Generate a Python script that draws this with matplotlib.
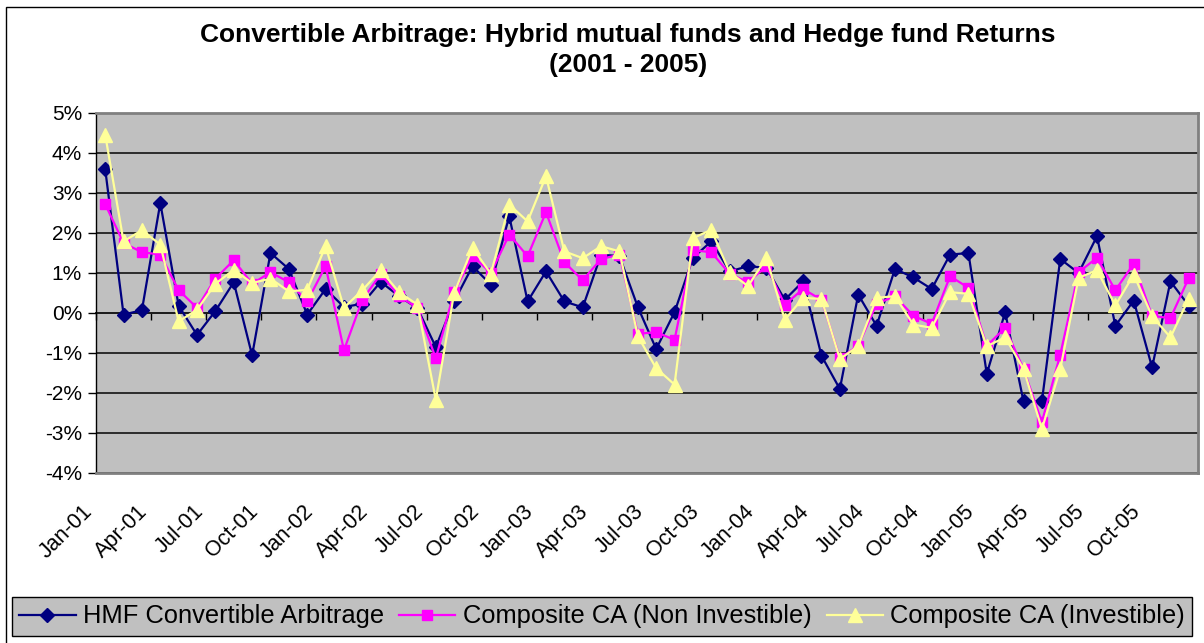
import matplotlib
matplotlib.use("Agg")
import matplotlib.pyplot as plt
import numpy as np
from matplotlib.patches import Rectangle
from matplotlib.ticker import FuncFormatter, MultipleLocator
from matplotlib.transforms import ScaledTranslation

plt.rcParams['font.family'] = ['Liberation Sans', 'DejaVu Sans']

# ---- data (monthly returns, %) Jan-2001 .. Dec-2005 ----
months = [f"{m}-{y:02d}" for y in range(1, 6) for m in
          ["Jan", "Feb", "Mar", "Apr", "May", "Jun", "Jul", "Aug", "Sep", "Oct", "Nov", "Dec"]]

hmf = [3.6, -0.04, 0.07, 2.75, 0.18, -0.55, 0.05, 0.77, -1.06, 1.5, 1.1, -0.04,
       0.6, 0.15, 0.23, 0.78, 0.42, 0.12, -0.85, 0.29, 1.17, 0.71, 2.42, 0.29,
       1.04, 0.29, 0.14, 1.46, 1.42, 0.15, -0.9, 0.02, 1.38, 1.79, 1.04, 1.17,
       1.13, 0.33, 0.79, -1.07, -1.9, 0.46, -0.32, 1.1, 0.89, 0.6, 1.46, 1.5,
       -1.52, 0.02, -2.21, -2.21, 1.35, 1.0, 1.92, -0.32, 0.31, -1.36, 0.79, 0.18]

comp_non_inv = [2.72, 1.75, 1.52, 1.46, 0.57, 0.13, 0.86, 1.32, 0.73, 1.02, 0.77, 0.29,
                1.17, -0.93, 0.33, 0.97, 0.42, 0.13, -1.13, 0.52, 1.43, 1.0, 1.96, 1.42,
                2.52, 1.27, 0.82, 1.35, 1.46, -0.52, -0.48, -0.67, 1.57, 1.52, 0.98, 0.77,
                1.17, 0.21, 0.6, 0.33, -1.13, -0.82, 0.23, 0.42, -0.07, -0.27, 0.92, 0.63,
                -0.82, -0.37, -1.4, -2.73, -1.04, 1.02, 1.38, 0.57, 1.23, -0.07, -0.13, 0.88]

comp_inv = [4.46, 1.79, 2.07, 1.71, -0.21, 0.08, 0.73, 1.08, 0.75, 0.86, 0.54, 0.58,
            1.67, 0.13, 0.57, 1.07, 0.52, 0.21, -2.17, 0.5, 1.63, 0.98, 2.71, 2.29,
            3.42, 1.54, 1.37, 1.67, 1.54, -0.58, -1.38, -1.79, 1.87, 2.08, 1.02, 0.67,
            1.38, -0.17, 0.38, 0.35, -1.15, -0.83, 0.38, 0.42, -0.29, -0.37, 0.52, 0.48,
            -0.83, -0.61, -1.4, -2.9, -1.4, 0.88, 1.07, 0.19, 0.96, -0.08, -0.61, 0.36]

series_names = ["HMF Convertible Arbitrage", "Composite CA (Non Investible)",
                "Composite CA (Investible)"]

title_text = "Convertible Arbitrage: Hybrid mutual funds and Hedge fund Returns\n(2001 - 2005)"

# ---- figure ----
W, H = 1204, 643
fig = plt.figure(figsize=(W / 100, H / 100), dpi=100)
fig.patch.set_facecolor("white")

ax = fig.add_axes([96 / W, 1 - 473 / H, (1198 - 96) / W, (473 - 113) / H])
ax.set_facecolor("#C0C0C0")

x = np.arange(len(months))
ymin, ymax = -4, 5

ax.plot(x, hmf, color="#000080", lw=1.6, marker="D", ms=7.5,
        mfc="#000080", mec="#000080", label=series_names[0], zorder=3)
ax.plot(x, comp_non_inv, color="#FF00FF", lw=1.6, marker="s", ms=7,
        mfc="#FF00FF", mec="#FF00FF", label=series_names[1], zorder=4)
ax.plot(x, comp_inv, color="#FFFF99", lw=1.6, marker="^", ms=9.5,
        mfc="#FFFF99", mec="#FFFF99", label=series_names[2], zorder=5)

ax.set_xlim(-0.5, len(months) - 0.5)
ax.set_ylim(ymin, ymax)

# y axis
ax.yaxis.set_major_locator(MultipleLocator(1))
ax.yaxis.set_major_formatter(FuncFormatter(lambda v, p: f"{v:.0f}%"))
ax.tick_params(axis="y", direction="out", length=6, width=1, color="black",
               labelsize=15, pad=4)
ax.grid(axis="y", color="#202020", lw=1.3, zorder=1)
ax.set_axisbelow(True)

# x axis labels at bottom
tick_idx = x[::3]
ax.set_xticks(tick_idx)
ax.tick_params(axis="x", length=0, pad=20)
ax.set_xticklabels([months[i] for i in tick_idx], rotation=45, ha="right",
                   va="top", rotation_mode="default", fontsize=15.5)
shift = ScaledTranslation(-8 / 100, 0, fig.dpi_scale_trans)
for lab in ax.get_xticklabels():
    lab.set_transform(lab.get_transform() + shift)

# category axis line at 0% with tick marks between categories
loc0 = (0 - ymin) / (ymax - ymin)
sec = ax.secondary_xaxis(loc0)
sec.set_xticks(np.arange(-0.5, len(months), 3))
sec.set_xticklabels([])
sec.tick_params(axis="x", direction="out", length=5, width=1, color="black")
sec.spines["bottom"].set_color("black")
sec.spines["bottom"].set_linewidth(1.3)

for s in ["top", "right", "bottom"]:
    ax.spines[s].set_color("#808080")
    ax.spines[s].set_linewidth(2)
ax.spines["left"].set_color("black")
ax.spines["left"].set_linewidth(1)

# title
fig.text(628 / W, 1 - 50 / H, title_text, ha="center", va="center",
         fontsize=19, fontweight="bold", linespacing=1.35)

# legend
leg = fig.legend(loc="center", bbox_to_anchor=(602 / W, 1 - 616.5 / H), ncol=3,
                 fontsize=18.4, frameon=True, fancybox=False, edgecolor="black",
                 facecolor="#C0C0C0", framealpha=1, handlelength=2.2,
                 handletextpad=0.28, columnspacing=0.6, borderpad=0.3,
                 borderaxespad=0)
leg.get_frame().set_linewidth(1)

# outer chart border (cropped on right/bottom)
fig.add_artist(Rectangle((6 / W, -0.1), 2, 1 - 7 / H + 0.1, transform=fig.transFigure,
                         fill=False, ec="black", lw=1))

fig.savefig("out.png", dpi=100)
